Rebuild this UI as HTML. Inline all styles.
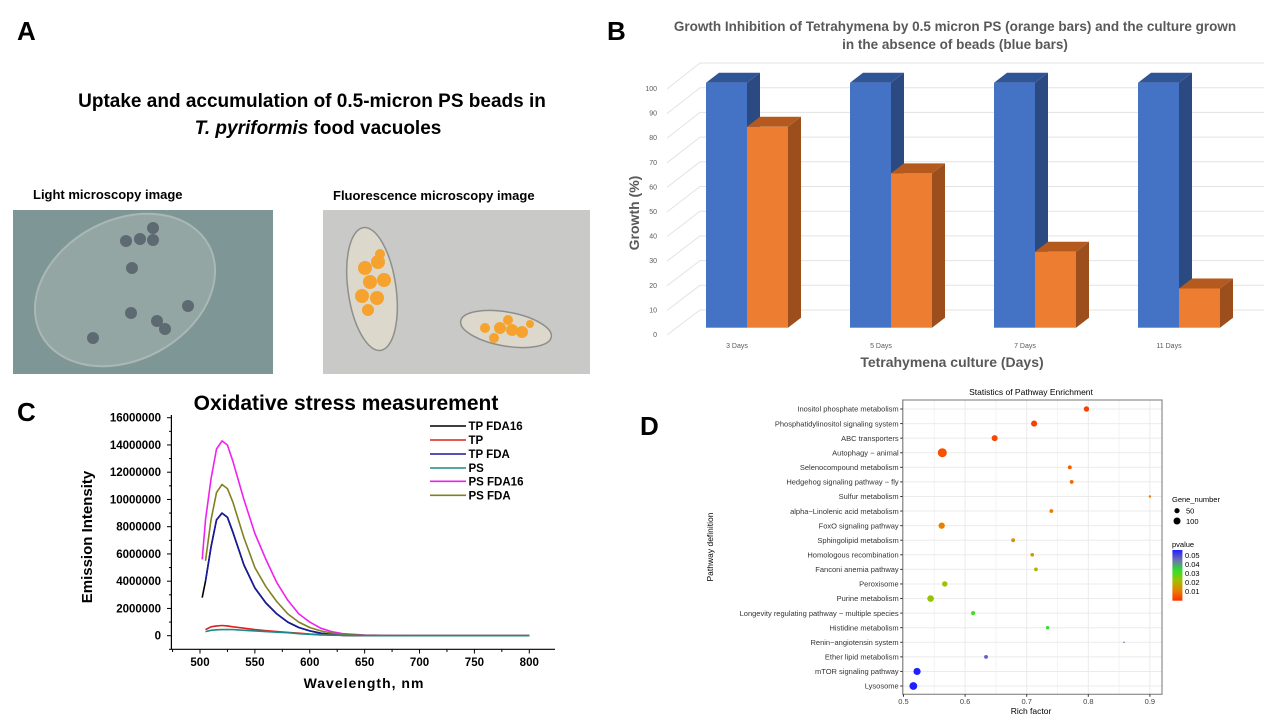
<!DOCTYPE html>
<html><head><meta charset="utf-8"><style>
body{margin:0;background:#fff;}
svg{display:block;font-family:"Liberation Sans",Arial,sans-serif;}
</style></head><body>
<svg id="fig" width="1280" height="720" viewBox="0 0 1280 720" xmlns="http://www.w3.org/2000/svg">
<rect width="1280" height="720" fill="#fff"/>

<g>
<text x="17" y="40" font-size="26" font-weight="bold">A</text>
<text x="312" y="107" font-size="19" font-weight="bold" text-anchor="middle">Uptake and accumulation of 0.5-micron PS beads in</text>
<text x="318" y="134" font-size="19" font-weight="bold" text-anchor="middle"><tspan font-style="italic">T. pyriformis</tspan> food vacuoles</text>
<text x="33" y="199" font-size="13" font-weight="bold">Light microscopy image</text>
<text x="333" y="200" font-size="13" font-weight="bold">Fluorescence microscopy image</text>
<g>
<rect x="13" y="210" width="260" height="164" fill="#7f9696"/>
<ellipse cx="125" cy="290" rx="95" ry="70" transform="rotate(-28 125 290)" fill="#93a6a4" stroke="#a9b8b4" stroke-width="2"/>
<g fill="#5e6a72">
<circle cx="153" cy="228" r="6"/><circle cx="126" cy="241" r="6"/><circle cx="140" cy="239" r="6"/><circle cx="153" cy="240" r="6"/>
<circle cx="132" cy="268" r="6"/><circle cx="131" cy="313" r="6"/><circle cx="188" cy="306" r="6"/><circle cx="157" cy="321" r="6"/><circle cx="165" cy="329" r="6"/><circle cx="93" cy="338" r="6"/>
</g></g>
<g>
<rect x="323" y="210" width="267" height="164" fill="#c9c9c8"/>
<ellipse cx="372" cy="289" rx="24" ry="62" transform="rotate(-8 372 289)" fill="#ddd8cc" stroke="#8e8e8a" stroke-width="1.5"/>
<ellipse cx="506" cy="329" rx="46" ry="17" transform="rotate(10 506 329)" fill="#ddd8cc" stroke="#8e8e8a" stroke-width="1.5"/>
<g fill="#f5a32e">
<circle cx="365" cy="268" r="7"/><circle cx="378" cy="262" r="7"/><circle cx="370" cy="282" r="7"/><circle cx="384" cy="280" r="7"/><circle cx="362" cy="296" r="7"/><circle cx="377" cy="298" r="7"/><circle cx="368" cy="310" r="6"/><circle cx="380" cy="254" r="5"/>
<circle cx="500" cy="328" r="6"/><circle cx="512" cy="330" r="6"/><circle cx="522" cy="332" r="6"/><circle cx="494" cy="338" r="5"/><circle cx="508" cy="320" r="5"/><circle cx="485" cy="328" r="5"/><circle cx="530" cy="324" r="4"/>
</g></g>
</g>

<g id="panelB">
<text x="607" y="40" font-size="26" font-weight="bold">B</text>
<text x="955" y="31" font-size="13.5" font-weight="bold" fill="#595959" text-anchor="middle">Growth Inhibition of Tetrahymena by 0.5 micron PS (orange bars) and the culture grown</text>
<text x="955" y="49" font-size="13.5" font-weight="bold" fill="#595959" text-anchor="middle">in the absence of beads (blue bars)</text>
<text transform="translate(639,213) rotate(-90)" font-size="14" font-weight="bold" fill="#595959" text-anchor="middle">Growth (%)</text>
<text x="952" y="367" font-size="14" font-weight="bold" fill="#595959" text-anchor="middle">Tetrahymena culture (Days)</text>
<g id="bGrid"></g><g id="bBars"></g>
</g>

<g id="panelC">
<text x="17" y="421" font-size="26" font-weight="bold">C</text>
<text x="346" y="410" font-size="21" font-weight="bold" text-anchor="middle">Oxidative stress measurement</text>
<text transform="translate(92,537) rotate(-90)" font-size="15" font-weight="bold" text-anchor="middle">Emission Intensity</text>
<text x="364" y="688" font-size="14" font-weight="bold" text-anchor="middle" letter-spacing="1">Wavelength,  nm</text>
<g id="cAxes"></g><g id="cLines"></g><g id="cLegend"></g>
</g>

<g id="panelD">
<text x="640" y="435" font-size="26" font-weight="bold">D</text>
<text x="1031" y="395" font-size="8.5" text-anchor="middle">Statistics of Pathway Enrichment</text>
<text transform="translate(713,547) rotate(-90)" font-size="8.5" text-anchor="middle">Pathway definition</text>
<text x="1031" y="714" font-size="8.5" text-anchor="middle">Rich factor</text>
<g id="dPlot"></g>
<g>
<text x="1172" y="502" font-size="7.5">Gene_number</text>
<circle cx="1177" cy="510.7" r="2.6" fill="#000"/>
<text x="1186" y="513.5" font-size="7.5">50</text>
<circle cx="1177" cy="521" r="3.5" fill="#000"/>
<text x="1186" y="524" font-size="7.5">100</text>
</g>
<g>
<text x="1172" y="547" font-size="7.5">pvalue</text>
<defs><linearGradient id="pg" x1="0" y1="0" x2="0" y2="1">
<stop offset="0" stop-color="#2020ff"/><stop offset="0.2" stop-color="#7070b0"/><stop offset="0.4" stop-color="#30e030"/><stop offset="0.6" stop-color="#a0c000"/><stop offset="0.8" stop-color="#e88000"/><stop offset="1" stop-color="#ff3000"/></linearGradient></defs>
<rect x="1172.4" y="550" width="10" height="50.7" fill="url(#pg)"/>
<g font-size="7.5">
<text x="1185" y="558">0.05</text><text x="1185" y="567">0.04</text><text x="1185" y="576">0.03</text><text x="1185" y="585">0.02</text><text x="1185" y="594">0.01</text>
</g></g>
</g>
</svg>

<script>
// ---------- Panel B data ----------
const bCategories = ["3 Days","5 Days","7 Days","11 Days"];
const bBlue = [100,100,100,100];
const bOrange = [82,63,31,16];
const bTicks = [0,10,20,30,40,50,60,70,80,90,100];

// ---------- Panel C data ----------
const cWave = [502,505,510,515,520,525,530,540,550,560,570,580,590,600,610,620,630,650,680,700,750,800];
const cTPFDA16 = [2.8e6,4.0e6,6.5e6,8.5e6,9.0e6,8.7e6,7.6e6,5.2e6,3.5e6,2.4e6,1.6e6,1.0e6,0.6e6,0.35e6,0.18e6,0.08e6,0.03e6,0.01e6,0,0,0,0];
const cTP = [null,0.45e6,0.65e6,0.72e6,0.75e6,0.72e6,0.65e6,0.55e6,0.45e6,0.37e6,0.3e6,0.24e6,0.18e6,0.12e6,0.08e6,0.05e6,0.03e6,0.01e6,0,0,0,0];
const cTPFDA = [null,4.0e6,6.5e6,8.5e6,9.0e6,8.7e6,7.6e6,5.2e6,3.5e6,2.4e6,1.6e6,1.0e6,0.6e6,0.35e6,0.18e6,0.08e6,0.03e6,0.01e6,0,0,0,0];
const cPS = [null,0.3e6,0.4e6,0.43e6,0.45e6,0.45e6,0.45e6,0.4e6,0.35e6,0.3e6,0.26e6,0.22e6,0.15e6,0.1e6,0.06e6,0.04e6,0.03e6,0.01e6,0,0,0,0];
const cPSFDA16 = [5.6e6,8.5e6,11.5e6,13.7e6,14.3e6,14.0e6,12.8e6,10.0e6,7.5e6,5.6e6,3.9e6,2.6e6,1.6e6,1.0e6,0.55e6,0.3e6,0.15e6,0.05e6,0.01e6,0,0,0];
const cPSFDA = [null,5.5e6,8.5e6,10.5e6,11.1e6,10.8e6,9.8e6,7.2e6,5.0e6,3.6e6,2.5e6,1.6e6,1.0e6,0.6e6,0.35e6,0.2e6,0.1e6,0.03e6,0,0,0,0];
const cSeriesNames = ["TP FDA16","TP","TP FDA","PS","PS FDA16","PS FDA"];
const cYTicks = [0,2000000,4000000,6000000,8000000,10000000,12000000,14000000,16000000];
const cXTicks = [500,550,600,650,700,750,800];

// ---------- Panel D data ----------
const dPathways = ["Inositol phosphate metabolism","Phosphatidylinositol signaling system","ABC transporters","Autophagy \u2212 animal","Selenocompound metabolism","Hedgehog signaling pathway \u2212 fly","Sulfur metabolism","alpha\u2212Linolenic acid metabolism","FoxO signaling pathway","Sphingolipid metabolism","Homologous recombination","Fanconi anemia pathway","Peroxisome","Purine metabolism","Longevity regulating pathway \u2212 multiple species","Histidine metabolism","Renin\u2212angiotensin system","Ether lipid metabolism","mTOR signaling pathway","Lysosome"];
const dRich = [0.797,0.712,0.648,0.563,0.770,0.773,0.900,0.740,0.562,0.678,0.709,0.715,0.567,0.544,0.613,0.734,0.858,0.634,0.522,0.516];
const dGenes = [60,75,75,165,30,30,12,30,80,30,28,28,60,90,35,22,5,30,105,125];
const dPvalue = [0.002,0.002,0.003,0.004,0.006,0.007,0.009,0.010,0.010,0.013,0.014,0.018,0.020,0.021,0.028,0.030,0.040,0.042,0.050,0.052];
const dXTicks = [0.5,0.6,0.7,0.8,0.9];

const NS="http://www.w3.org/2000/svg";
function mk(tag,attrs,parent){const e=document.createElementNS(NS,tag);for(const k in attrs)e.setAttribute(k,attrs[k]);parent.appendChild(e);return e;}

// ---------- Panel B draw ----------
(function(){
  const grid=document.getElementById('bGrid'), bars=document.getElementById('bBars');
  const y0=327.7, yScale=v=>y0-v*2.45;
  const frontY=v=>335-v*2.46, backY=v=>310-v*2.47;
  const groupX=i=>706+i*144, bw=41, depth=13, dd=10;
  bTicks.forEach(t=>{
    const yf=frontY(t), yb=backY(t);
    const g=mk('polyline',{points:`667,${yf} 700,${yb} 1264,${yb}`,fill:'none',stroke:'#e3e3e3','stroke-width':1},grid);
    
    
    const tx=mk('text',{x:657,y:yf+2,'font-size':7,fill:'#595959','text-anchor':'end'},grid);
    tx.textContent=t;
    
    
  });
  function bar3d(x,v,front,side,topc,name){
    const y=yScale(v);
    const g=mk('g',{},bars);
    
    
    mk('polygon',{points:`${x+bw},${y} ${x+bw+depth},${y-dd} ${x+bw+depth},${y0-dd} ${x+bw},${y0}`,fill:side},g);
    mk('polygon',{points:`${x},${y} ${x+depth},${y-dd} ${x+bw+depth},${y-dd} ${x+bw},${y}`,fill:topc},g);
    mk('rect',{x:x,y:y,width:bw,height:y0-y,fill:front},g);
  }
  bCategories.forEach((c,i)=>{
    const x=groupX(i);
    bar3d(x,bBlue[i],'#4472c4','#2b4a82','#2f5597','bar-blue-'+i);
    bar3d(x+bw,bOrange[i],'#ed7d31','#9c4f1c','#b45a1f','bar-orange-'+i);
    const t=mk('text',{x:x+31,y:348,'font-size':7,fill:'#595959','text-anchor':'middle'},bars);
    t.textContent=c;
    
    
  });
})();

// ---------- Panel C draw ----------
(function(){
  const ax=document.getElementById('cAxes'), ln=document.getElementById('cLines'), lg=document.getElementById('cLegend');
  const X=w=>200+(w-500)*1.0976, Y=v=>635.7-v*(218/16000000);
  const a1=mk('line',{x1:171.4,y1:415,x2:171.4,y2:649.3,stroke:'#000','stroke-width':1.2},ax);
  
  
  const a2=mk('line',{x1:171.4,y1:649.3,x2:555,y2:649.3,stroke:'#000','stroke-width':1.2},ax);
  
  
  for(let v=0;v<=16000000;v+=1000000){const major=v%2000000===0;mk('line',{x1:171.4,y1:Y(v),x2:major?167:169,y2:Y(v),stroke:'#000'},ax);}
  mk('line',{x1:171.4,y1:Y(-1000000),x2:169,y2:Y(-1000000),stroke:'#000'},ax);
  cYTicks.forEach(v=>{
    const t=mk('text',{x:161,y:Y(v)+4,'font-size':11.5,'font-weight':'bold','text-anchor':'end'},ax);
    t.textContent=v;
    
    
  });
  for(let w=475;w<=825;w+=25){if(X(w)<171||X(w)>556)continue;mk('line',{x1:X(w),y1:649.3,x2:X(w),y2:w%50===0?653.5:652,stroke:'#000'},ax);}
  cXTicks.forEach(w=>{
    const t=mk('text',{x:X(w),y:666,'font-size':11.5,'font-weight':'bold','text-anchor':'middle'},ax);
    t.textContent=w;
    
    
  });
  const series=[cTPFDA16,cTP,cTPFDA,cPS,cPSFDA16,cPSFDA];
  const colors=['#000000','#e0201a','#1a1a9c','#1c8a8a','#ee22ee','#808020'];
  const order=[0,2,4,5,1,3];
  order.forEach(i=>{
    const pts=[];cWave.forEach((w,j)=>{if(series[i][j]!==null)pts.push(X(w).toFixed(1)+','+Y(series[i][j]).toFixed(1));});
    const p=mk('polyline',{points:pts.join(' '),fill:'none',stroke:colors[i],'stroke-width':1.6,'stroke-linejoin':'round'},ln);
    
    
  });
  const legY=[426,440,454,468,481.3,495.3];
  cSeriesNames.forEach((n,i)=>{
    const y=legY[i];
    const g=mk('g',{},lg);
    
    
    mk('line',{x1:430,y1:y,x2:466,y2:y,stroke:colors[i],'stroke-width':1.6},g);
    const t=mk('text',{x:468.5,y:y+4,'font-size':11.5,'font-weight':'bold'},g);
    t.textContent=n;
  });
})();

// ---------- Panel D draw ----------
(function(){
  const p=document.getElementById('dPlot');
  const L=902.7,R=1162,T=400,B=694.3;
  const X=v=>903.5+(v-0.5)*616, Y=i=>409+i*14.58;
  const bg=mk('rect',{x:L,y:T,width:R-L,height:B-T,fill:'#fff'},p);
  
  
  for(let k=0;k<=10;k++){const v=0.45+k*0.05;const x=X(v);if(x<L||x>R)continue;mk('line',{x1:x,y1:T,x2:x,y2:B,stroke:k%2===1?'#ebebeb':'#f4f4f4'},p);}
  dPathways.forEach((n,i)=>{mk('line',{x1:L,y1:Y(i),x2:R,y2:Y(i),stroke:'#ebebeb'},p);});
  mk('rect',{x:L,y:T,width:R-L,height:B-T,fill:'none',stroke:'#8c8c8c','stroke-width':1.2},p);
  dXTicks.forEach(v=>{
    mk('line',{x1:X(v),y1:B,x2:X(v),y2:B+2.5,stroke:'#333'},p);
    const t=mk('text',{x:X(v),y:704,'font-size':7.5,fill:'#444','text-anchor':'middle'},p);
    t.textContent=v;
    
    
  });
  function pcol(pv){
    const stops=[[0,[255,48,0]],[0.01,[232,128,0]],[0.02,[160,192,0]],[0.03,[48,224,48]],[0.04,[112,112,176]],[0.05,[32,32,255]]];
    pv=Math.min(0.05,Math.max(0,pv));
    for(let k=1;k<stops.length;k++){if(pv<=stops[k][0]){const a=stops[k-1],b=stops[k],f=(pv-a[0])/(b[0]-a[0]);return 'rgb('+a[1].map((c,j)=>Math.round(c+(b[1][j]-c)*f)).join(',')+')';}}
    return 'rgb(32,32,255)';
  }
  dPathways.forEach((n,i)=>{
    mk('line',{x1:L-2.5,y1:Y(i),x2:L,y2:Y(i),stroke:'#333'},p);
    const t=mk('text',{x:L-4,y:Y(i)+2.7,'font-size':7.5,fill:'#333','text-anchor':'end'},p);
    t.textContent=n;
    
    
    const c=mk('circle',{cx:X(dRich[i]),cy:Y(i),r:(0.35*Math.sqrt(dGenes[i])).toFixed(2),fill:pcol(dPvalue[i])},p);
    
    
  });
})();
</script>
</body></html>
